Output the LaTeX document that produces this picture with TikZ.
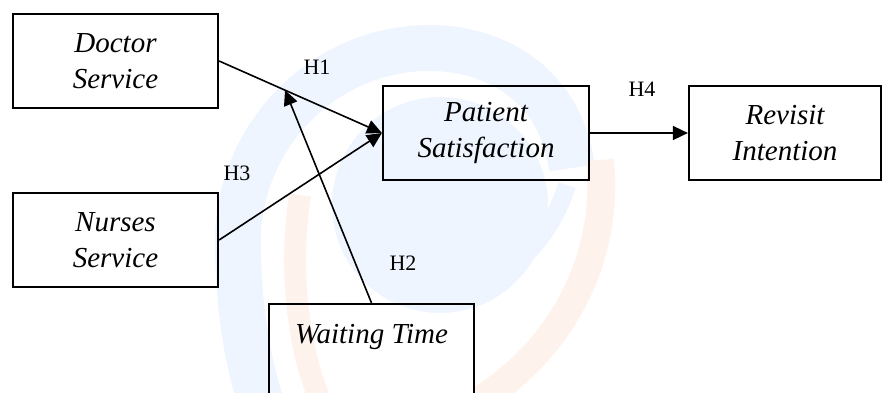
\documentclass[tikz,border=0pt]{standalone}
\usepackage{fontspec}
\setmainfont{Liberation Serif}
\usetikzlibrary{arrows.meta,calc}
\definecolor{wmblue}{RGB}{239,245,254}
\definecolor{wmorange}{RGB}{254,242,237}
\begin{document}
\begin{tikzpicture}[x=1pt,y=-1pt,
  box/.style={draw, line width=2.2pt, rectangle, minimum width=205pt, minimum height=94pt,
    inner sep=0pt, align=center, font=\fontsize{29}{35.5}\selectfont\itshape},
  hyp/.style={font=\fontsize{22}{26}\selectfont, inner sep=0pt},
  conn/.style={line width=1.6pt, -{Triangle[length=15pt,width=14pt]}}]
\useasboundingbox (0,0) rectangle (883,392);
\clip (0,0) rectangle (883,392);
% watermark
\begin{scope}
\fill[wmblue] (440,205) circle[radius=108];
\draw[wmblue, line width=46pt] (572,168) .. controls (560,80) and (490,48) .. (430,48)
  .. controls (320,48) and (238,140) .. (238,240) .. controls (238,310) and (248,360) .. (260,400);
\draw[wmblue, line width=18pt] (567,185) .. controls (550,240) and (510,280) .. (450,298);
\draw[wmorange, line width=28pt] (600,160) .. controls (610,260) and (560,350) .. (480,400);
\draw[wmorange, line width=22pt] (300,195) .. controls (290,260) and (295,340) .. (320,400);
\end{scope}
% boxes
\node[box] (doc) at (115.5,61) {Doctor\\Service};
\node[box] (nur) at (115.5,240) {Nurses\\Service};
\node[box, minimum width=206pt] (pat) at (486,133) {Patient\\Satisfaction};
\node[box, minimum width=192pt] (rev) at (785,133) {Revisit\\Intention};
\node[box, minimum height=96pt] (wait) at (371.5,352) {Waiting Time\\\mbox{}};
% labels
\node[hyp] (h1) at (317,67) {H1};
\node[hyp] (h3) at (237,173) {H3};
\node[hyp] (h2) at (403,263) {H2};
\node[hyp] (h4) at (642,89) {H4};
% connectors
\draw[conn] (doc.east) -- (pat.west);
\draw[conn] (nur.east) -- (pat.west);
\coordinate (m) at ($(doc.east)!0.405!(pat.west)$);
\draw[conn] (wait.north) -- (m);
\draw[conn] (pat.east) -- (rev.west);
\end{tikzpicture}
\end{document}
